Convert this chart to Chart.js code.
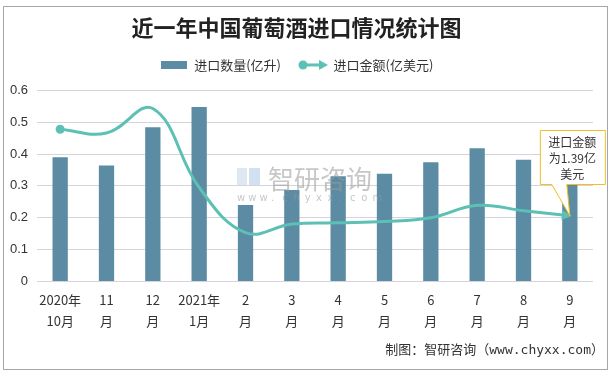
<!DOCTYPE html>
<html>
<head>
<meta charset="utf-8">
<script src="https://cdn.jsdelivr.net/npm/chart.js@4"></script>
<style>
  html, body { margin: 0; padding: 0; background: #fff; }
  #wrap { width: 613px; height: 372px; }
</style>
</head>
<body>
<div id="wrap"><canvas id="chart" width="613" height="372"></canvas></div>
<script>
var months = [['2020年', '10月'], ['11', '月'], ['12', '月'], ['2021年', '1月'], ['2', '月'], ['3', '月'],
              ['4', '月'], ['5', '月'], ['6', '月'], ['7', '月'], ['8', '月'], ['9', '月']];
var volume = [0.39, 0.364, 0.484, 0.548, 0.24, 0.287, 0.33, 0.338, 0.374, 0.418, 0.382, 0.31];
var amount = [0.478, 0.466, 0.543, 0.295, 0.153, 0.18, 0.184, 0.188, 0.2, 0.239, 0.222, 0.206];
var yTicks = [0, 0.1, 0.2, 0.3, 0.4, 0.5, 0.6];

var barColor = '#5b8ca3';
var lineColor = '#5cc0b5';
var cjk = '"Noto Sans CJK SC", sans-serif';

// legend icons
function barIcon() {
  var c = document.createElement('canvas');
  c.width = 26; c.height = 8;
  var g = c.getContext('2d');
  g.fillStyle = barColor;
  g.fillRect(0, 0, 26, 8);
  return c;
}
function lineIcon() {
  var c = document.createElement('canvas');
  c.width = 30; c.height = 12;
  var g = c.getContext('2d');
  g.strokeStyle = lineColor; g.fillStyle = lineColor; g.lineWidth = 3;
  g.beginPath(); g.moveTo(5, 6); g.lineTo(23, 6); g.stroke();
  g.beginPath(); g.arc(5, 6, 4.5, 0, Math.PI * 2); g.fill();
  g.beginPath(); g.moveTo(30, 6); g.lineTo(21, 1); g.lineTo(21, 11); g.closePath(); g.fill();
  return c;
}

var extras = {
  id: 'extras',
  beforeDraw: function (chart) {
    var ctx = chart.ctx;
    ctx.save();
    ctx.strokeStyle = '#a6a6a6';
    ctx.lineWidth = 1;
    ctx.strokeRect(3.5, 6.5, 604, 363);
    ctx.restore();
  },
  afterDatasetsDraw: function (chart) {
    var ctx = chart.ctx;
    // watermark
    ctx.save();
    ctx.globalAlpha = 0.55;
    ctx.fillStyle = '#c5d3e6';
    ctx.fillRect(237, 168, 10, 17);
    ctx.fillStyle = '#a9c9e6';
    ctx.fillRect(249, 168, 11, 17);
    ctx.fillStyle = '#999';
    ctx.font = '26px ' + cjk;
    ctx.textBaseline = 'middle';
    ctx.textAlign = 'left';
    ctx.fillText('智研咨询', 268, 179);
    ctx.font = '10px "DejaVu Sans"';
    var s = 'www.chyxx.com';
    for (var i = 0; i < s.length; i++) ctx.fillText(s[i], 237 + i * 11.3, 198);
    ctx.restore();

    // line start marker and end arrow
    var pts = chart.getDatasetMeta(1).data;
    var p0 = pts[0], pn = pts[pts.length - 1], pp = pts[pts.length - 2];
    ctx.save();
    ctx.fillStyle = lineColor;
    ctx.beginPath(); ctx.arc(p0.x, p0.y, 4.5, 0, Math.PI * 2); ctx.fill();
    var a = Math.atan2(pn.y - pp.y, pn.x - pp.x);
    ctx.translate(pn.x, pn.y); ctx.rotate(a);
    ctx.beginPath(); ctx.moveTo(2, 0); ctx.lineTo(-8, -5); ctx.lineTo(-8, 5); ctx.closePath(); ctx.fill();
    ctx.restore();

    // callout
    var bx = pn.x - 30, by = 130, bw = 65, bh = 54;
    ctx.save();
    ctx.fillStyle = '#fff';
    ctx.strokeStyle = '#f0c020';
    ctx.lineWidth = 1;
    ctx.beginPath();
    ctx.moveTo(bx + 0.5, by + 0.5);
    ctx.lineTo(bx + bw + 0.5, by + 0.5);
    ctx.lineTo(bx + bw + 0.5, by + bh + 0.5);
    ctx.lineTo(pn.x - 3, by + bh + 0.5);
    ctx.lineTo(pn.x, pn.y);
    ctx.lineTo(pn.x - 18, by + bh + 0.5);
    ctx.lineTo(bx + 0.5, by + bh + 0.5);
    ctx.closePath();
    ctx.fill(); ctx.stroke();
    ctx.fillStyle = '#333';
    ctx.font = '12px ' + cjk;
    ctx.textAlign = 'center';
    ctx.textBaseline = 'middle';
    ctx.fillText('进口金额', bx + bw / 2, by + 12);
    ctx.fillText('为1.39亿', bx + bw / 2, by + 28);
    ctx.fillText('美元', bx + bw / 2, by + 44);
    ctx.restore();

    // source note
    ctx.save();
    ctx.fillStyle = '#333';
    ctx.font = '13px "DejaVu Sans Mono", ' + cjk;
    ctx.textAlign = 'right';
    ctx.textBaseline = 'middle';
    ctx.fillText('制图：智研咨询（www.chyxx.com）', 604, 351);
    ctx.restore();
  }
};

new Chart(document.getElementById('chart'), {
  type: 'bar',
  data: {
    labels: months,
    datasets: [{
      type: 'bar',
      label: '进口数量(亿升)',
      data: volume,
      backgroundColor: barColor,
      barPercentage: 0.33,
      categoryPercentage: 1,
      order: 2,
      pointStyle: barIcon()
    }, {
      type: 'line',
      label: '进口金额(亿美元)',
      data: amount,
      borderColor: lineColor,
      backgroundColor: lineColor,
      borderWidth: 3,
      tension: 0.4,
      pointRadius: 0,
      order: 1,
      pointStyle: lineIcon()
    }]
  },
  options: {
    responsive: false,
    animation: false,
    layout: { padding: { left: 0, right: 20, top: 0, bottom: 41 } },
    plugins: {
      title: {
        display: true,
        text: '近一年中国葡萄酒进口情况统计图',
        color: '#222',
        font: { family: cjk, size: 22, weight: 'bold' },
        padding: { top: 14, bottom: 0 }
      },
      legend: {
        display: true,
        labels: {
          usePointStyle: true,
          pointStyleWidth: 28,
          color: '#333',
          font: { family: cjk, size: 13 },
          padding: 18,
          sort: function (a, b) { return a.datasetIndex - b.datasetIndex; }
        }
      },
      tooltip: { enabled: false }
    },
    scales: {
      x: {
        grid: { display: false },
        border: { display: false },
        ticks: { color: '#333', font: { family: cjk, size: 13, lineHeight: 1.6 }, maxRotation: 0, autoSkip: false, padding: 0 }
      },
      gap: {
        type: 'category',
        position: 'top',
        grid: { display: false },
        border: { display: false },
        ticks: { display: false },
        afterFit: function (s) { s.height = 9; }
      },
      y: {
        min: 0,
        max: 0.6,
        afterFit: function (s) { s.width = 37; },
        afterBuildTicks: function (s) { s.ticks = yTicks.map(function (v) { return { value: v }; }); },
        border: { display: false },
        grid: { color: '#d6d2de', borderDash: [3, 2], drawTicks: false },
        ticks: { color: '#333', font: { family: 'Liberation Sans', size: 13 }, padding: 9 }
      }
    }
  },
  plugins: [extras]
});
</script>
</body>
</html>
